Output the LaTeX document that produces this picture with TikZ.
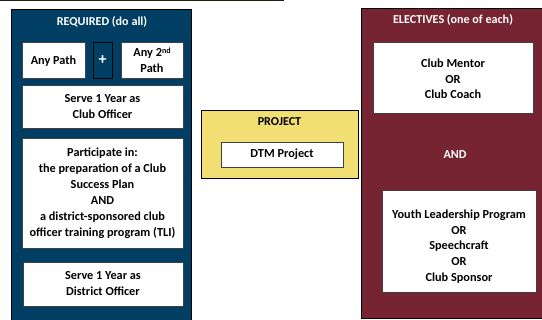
\documentclass[tikz,border=0pt]{standalone}
\usepackage{fontspec}
\setmainfont{Carlito}
\usetikzlibrary{positioning}
\definecolor{tmblue}{RGB}{0,63,99}
\definecolor{tmmaroon}{RGB}{119,36,50}
\definecolor{tmyellow}{RGB}{242,223,116}
\tikzset{
  panel/.style={draw=black, line width=0.6pt, inner sep=0pt},
  whitebox/.style={draw=black!75, fill=white, line width=0.5pt, align=center, inner sep=0pt, font=\bfseries\fontsize{9.2}{12}\selectfont},
  boxtext/.style={align=center, inner sep=0pt, font=\bfseries\fontsize{9.2}{11.7}\selectfont},
  heading/.style={font=\bfseries\fontsize{9.1}{11}\selectfont, inner sep=0pt}
}
\begin{document}
\begin{tikzpicture}[x=0.75pt,y=-0.75pt]
    \useasboundingbox (0,0) rectangle (542,320);
    \fill[black!80!brown] (0,0) rectangle (284,1.2);

    % required
        \fill[tmblue]  (11,9) rectangle (191,321);
        \draw[panel] (11,9) -- (191,9) -- (191,321) (11,9) -- (11,321);
        \node[heading, text=white] (req) at (102,22) {REQUIRED (do all)};
        \node[whitebox, minimum width=63*0.75pt, minimum height=36*0.75pt] (path1) at (53.5,60) {};
        \node[boxtext] (path1txt) at (53.5,61.5) {Any Path};
        \node[draw=black, fill=tmblue, text=white, minimum width=19*0.75pt, minimum height=36*0.75pt, inner sep=0pt, font=\bfseries\fontsize{12}{14}\selectfont] (plus) at (102.5,60) {+};
        \node[whitebox, minimum width=62*0.75pt, minimum height=36*0.75pt] (path2) at (152,60) {Any 2{\fontsize{6}{6}\selectfont\raisebox{0.7ex}{nd}}\\Path};
        \node[whitebox, minimum width=161*0.75pt, minimum height=43*0.75pt] (clubofc) at (102.5,106.5) {Serve 1 Year as\\Club Officer};
        \node[whitebox, minimum width=161*0.75pt, minimum height=110*0.75pt] (tli) at (102.5,193) {Participate in:\\the preparation of a Club\\Success Plan\\AND\\a district-sponsored club\\officer training program (TLI)};
        \node[whitebox, minimum width=160*0.75pt, minimum height=44*0.75pt] (distofc) at (103,284) {Serve 1 Year as\\District Officer};

    % project
        \node[panel, fill=tmyellow, minimum width=157*0.75pt, minimum height=68*0.75pt] (proj) at (279.5,144) {};
        \node[heading] (projtitle) at (279.5,122) {PROJECT};
        \node[whitebox, minimum width=122*0.75pt, minimum height=25*0.75pt] (dtm) at (282,154.5) {DTM Project};

    % electives
        \fill[tmmaroon] (361,8) rectangle (543,318);
        \draw[panel] (543,8) -- (361,8) -- (361,318) -- (543,318);
        \node[heading, text=white] (elec) at (453,20) {ELECTIVES (one of each)};
        \node[whitebox, minimum width=160*0.75pt, minimum height=71*0.75pt] (mentor) at (453,77.5) {};
        \node[boxtext] (mentortxt) at (453,79) {Club Mentor\\OR\\Club Coach};
        \node[heading, text=white] (and) at (455,155) {AND};
        \node[whitebox, minimum width=154*0.75pt, minimum height=102*0.75pt] (youth) at (459,241) {};
        \node[boxtext] (youthtxt) at (459,246.5) {Youth Leadership Program\\OR\\Speechcraft\\OR\\Club Sponsor};
\end{tikzpicture}
\end{document}
